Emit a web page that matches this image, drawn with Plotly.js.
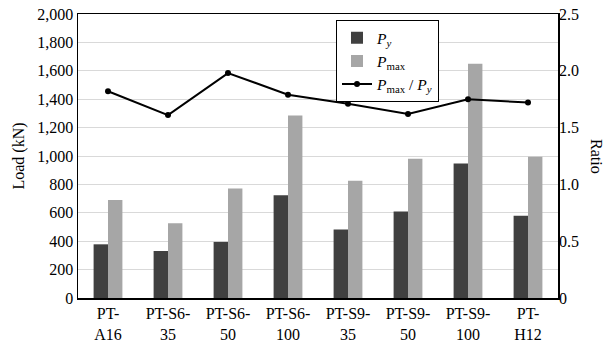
<!DOCTYPE html>
<html><head><meta charset="utf-8">
<script src="https://cdn.plot.ly/plotly-3.0.1.min.js"></script>
<style>body{margin:0;background:#fff}#c{width:610px;height:343px}</style>
</head><body><div id="c"></div>
<script>
const categories = ['PT-A16','PT-S6-35','PT-S6-50','PT-S6-100','PT-S9-35','PT-S9-50','PT-S9-100','PT-H12'];
const tickLabels = ['PT-<br>A16','PT-S6-<br>35','PT-S6-<br>50','PT-S6-<br>100','PT-S9-<br>35','PT-S9-<br>50','PT-S9-<br>100','PT-<br>H12'];
const Py = [378, 331, 395, 723, 482, 609, 947, 580];
const Pmax = [691, 526, 771, 1285, 825, 980, 1650, 994];
const ratio = [1.82, 1.61, 1.98, 1.79, 1.71, 1.62, 1.75, 1.72];
const y2Ticks = [0, 0.5, 1.0, 1.5, 2.0, 2.5];
const y2Labels = ['0','0.5','1.0','1.5','2.0','2.5'];

const font = {family: 'Liberation Serif, Times New Roman, serif', size: 16, color: '#000'};
const legFont = {family: 'Liberation Serif, Times New Roman, serif', size: 15.5, color: '#000'};
const data = [
  {type:'bar', x:categories, y:Py, name:'<i>P</i><sub><i>y</i></sub>', marker:{color:'#404040'}},
  {type:'bar', x:categories, y:Pmax, name:'<i>P</i><sub>max</sub>', marker:{color:'#a6a6a6'}},
  {type:'scatter', mode:'lines+markers', x:categories, y:ratio, yaxis:'y2', name:'<i>P</i><sub>max</sub> / <i>P</i><sub><i>y</i></sub>',
   line:{color:'#000', width:2}, marker:{color:'#000', size:6}}
];
const layout = {
  width:610, height:343,
  margin:{l:78, r:52, t:14, b:45},
  paper_bgcolor:'#fff', plot_bgcolor:'#fff',
  font: font,
  barmode:'group', bargap:0.52, bargroupgap:0,
  showlegend:true,
  legend:{x:0.5375, y:0.978, xanchor:'left', yanchor:'top', bgcolor:'#fff', bordercolor:'#000', borderwidth:1, font:legFont, tracegroupgap:0},
  xaxis:{type:'category', tickvals:categories, ticktext:tickLabels, showline:true, linecolor:'#000', linewidth:1.5, mirror:true, ticks:'', showgrid:false, tickfont:font},
  yaxis:{range:[0,2000], dtick:200, tickformat:',d', showline:true, linecolor:'#000', linewidth:1.5, mirror:true, gridcolor:'#d9d9d9', gridwidth:1, ticks:'', tickfont:font, zeroline:false,
    title:{text:'Load (kN)', font:font, standoff:8}},
  yaxis2:{range:[0,2.5], overlaying:'y', side:'right', tickvals:y2Ticks, ticktext:y2Labels, showgrid:false, showline:false, ticks:'', tickfont:font, zeroline:false},
  annotations:[{text:'Ratio', xref:'paper', yref:'paper', x:1.0 + 39/480, y:0.5, showarrow:false, textangle:90, font:font, xanchor:'center', yanchor:'middle'}]
};
Plotly.newPlot('c', data, layout, {displayModeBar:false, staticPlot:true});
</script>
</body></html>
